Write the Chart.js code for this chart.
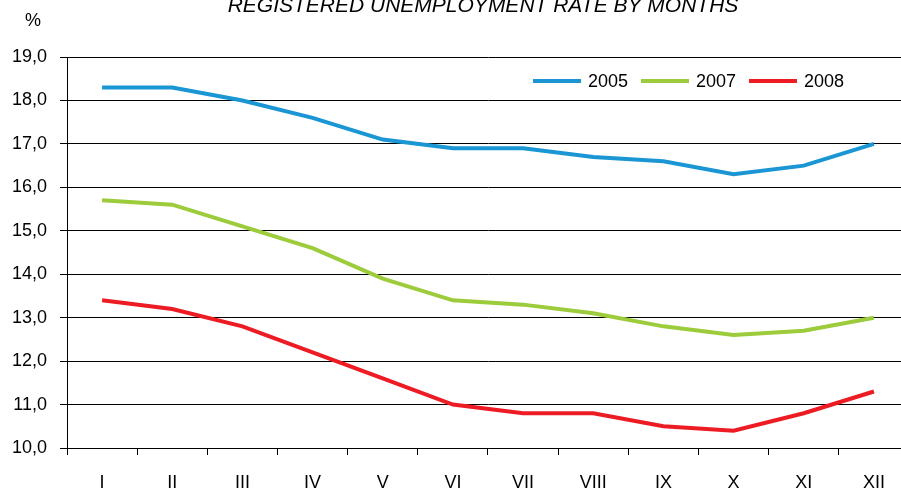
<!DOCTYPE html>
<html>
<head>
<meta charset="utf-8">
<script src="https://cdn.jsdelivr.net/npm/chart.js@4/dist/chart.umd.min.js"></script>
<style>
  html, body { margin: 0; padding: 0; background: #fff; overflow: hidden; }
  #wrap { width: 915px; height: 491px; }
</style>
</head>
<body>
<div id="wrap"><canvas id="chart"></canvas></div>
<script>
const months = ["I", "II", "III", "IV", "V", "VI", "VII", "VIII", "IX", "X", "XI", "XII"];
const years = ["2005", "2007", "2008"];
const rate2005 = [18.3, 18.3, 18.0, 17.6, 17.1, 16.9, 16.9, 16.7, 16.6, 16.3, 16.5, 17.0];
const rate2007 = [15.7, 15.6, 15.1, 14.6, 13.9, 13.4, 13.3, 13.1, 12.8, 12.6, 12.7, 13.0];
const rate2008 = [13.4, 13.2, 12.8, 12.2, 11.6, 11.0, 10.8, 10.8, 10.5, 10.4, 10.8, 11.3];
const colors = ["#1a96d4", "#9ccb3b", "#ed1c24"];

const FONT = "'Liberation Sans', Arial, sans-serif";

// title, % sign and legend drawn by hand
const extras = {
    id: "extras",
    afterDraw(chart) {
        const ctx = chart.ctx;
        ctx.save();
        ctx.fillStyle = "#000";
        ctx.textBaseline = "alphabetic";
        ctx.textAlign = "center";
        ctx.font = "italic 21px " + FONT;
        ctx.fillText("REGISTERED UNEMPLOYMENT RATE BY MONTHS", 483, 12);
        ctx.font = "18px " + FONT;
        ctx.fillText("%", 33, 26);

        // legend
        ctx.textAlign = "left";
        ctx.textBaseline = "middle";
        let x = 533;
        chart.data.datasets.forEach(ds => {
            ctx.strokeStyle = ds.borderColor;
            ctx.lineWidth = 4;
            ctx.beginPath();
            ctx.moveTo(x, 81);
            ctx.lineTo(x + 48, 81);
            ctx.stroke();
            ctx.fillText(ds.label, x + 55, 82);
            x += 108;
        });
        ctx.restore();
    }
};

new Chart(document.getElementById("chart"), {
    type: "line",
    data: {
        labels: months,
        datasets: [rate2005, rate2007, rate2008].map((d, i) => ({
            label: years[i],
            data: d,
            borderColor: colors[i],
            backgroundColor: colors[i],
            borderWidth: 4,
            pointRadius: 0,
            tension: 0
        }))
    },
    options: {
        responsive: true,
        maintainAspectRatio: false,
        animation: false,
        layout: { padding: { top: 57, left: 0, right: 6, bottom: 0 } },
        plugins: {
            legend: { display: false },
            tooltip: { enabled: false }
        },
        scales: {
            x: {
                offset: true,
                grid: {
                    offset: true,
                    drawOnChartArea: false,
                    drawTicks: true,
                    tickLength: 7,
                    color: "#000",
                    lineWidth: 1
                },
                border: { display: true, color: "#000", width: 1 },
                ticks: {
                    color: "#000",
                    font: { family: FONT, size: 18 },
                    padding: 17,
                    maxRotation: 0,
                    autoSkip: false
                },
                afterFit(scale) { scale.height = 43; }
            },
            y: {
                min: 10,
                max: 19,
                grid: {
                    color: "#000",
                    lineWidth: 1,
                    tickLength: 7
                },
                border: { display: true, color: "#000", width: 1 },
                ticks: {
                    stepSize: 1,
                    color: "#000",
                    font: { family: FONT, size: 18 },
                    padding: 13,
                    callback: v => v.toFixed(1).replace(".", ",")
                },
                afterFit(scale) { scale.width = 67; }
            }
        }
    },
    plugins: [extras]
});
</script>
</body>
</html>
